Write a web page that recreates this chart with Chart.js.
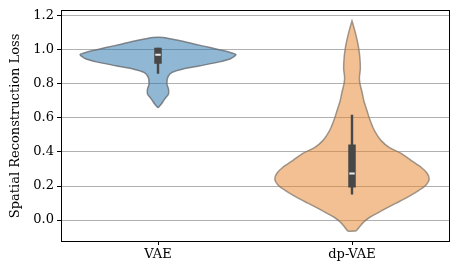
<!DOCTYPE html>
<html>
<head>
<meta charset="utf-8">
<script src="https://cdn.jsdelivr.net/npm/chart.js@4/dist/chart.umd.min.js"></script>
<style>
  html, body { margin: 0; padding: 0; background: #fff; }
  #wrap { width: 458px; height: 275px; }
</style>
</head>
<body>
<div id="wrap"><canvas id="c"></canvas></div>
<script>
const categories = ['VAE', 'dp-VAE'];
const yTicks = [0.0, 0.2, 0.4, 0.6, 0.8, 1.0, 1.2];

// violin outlines: loss value and half width (in category units)
const vaeLoss  = [0.659, 0.682, 0.712, 0.741, 0.770, 0.799, 0.838, 0.867, 0.887, 0.906, 0.926, 0.946, 0.971, 0.983, 0.994, 1.013, 1.033, 1.053, 1.072];
const vaeWidth = [0.000, 0.017, 0.035, 0.054, 0.054, 0.046, 0.050, 0.072, 0.129, 0.216, 0.304, 0.371, 0.402, 0.376, 0.340, 0.268, 0.190, 0.113, 0.026];

const dpLoss  = [-0.064, -0.041, -0.012, 0.018, 0.058, 0.099, 0.135, 0.175, 0.205, 0.240, 0.275, 0.310, 0.351, 0.392, 0.427, 0.468, 0.509, 0.544, 0.596, 0.643, 0.696, 0.749, 0.801, 0.836, 0.889, 0.947, 1.006, 1.064, 1.123, 1.170];
const dpWidth = [0.021, 0.038, 0.060, 0.094, 0.158, 0.227, 0.287, 0.345, 0.381, 0.398, 0.387, 0.356, 0.304, 0.253, 0.191, 0.149, 0.124, 0.108, 0.090, 0.077, 0.062, 0.052, 0.041, 0.038, 0.043, 0.041, 0.035, 0.025, 0.012, 0.000];

// inner box stats: [whisker low, q1, median, q3, whisker high]
const vaeBox = [0.860, 0.918, 0.971, 1.012, 1.012];
const dpBox  = [0.150, 0.191, 0.273, 0.444, 0.618];

function outline(center, loss, width) {
  const pts = [];
  for (let i = 0; i < loss.length; i++) pts.push({ x: center + width[i], y: loss[i] });
  for (let i = loss.length - 1; i >= 0; i--) pts.push({ x: center - width[i], y: loss[i] });
  pts.push(pts[0]);
  return pts;
}

function violin(center, loss, width, fill, edge) {
  return {
    data: outline(center, loss, width),
    showLine: true, fill: 'shape', tension: 0.25,
    backgroundColor: fill, borderColor: edge, borderWidth: 1.5,
    pointRadius: 0, order: 4
  };
}

function innerBox(center, s) {
  return [
    { data: [{ x: center, y: s[0] }, { x: center, y: s[4] }], showLine: true,
      borderColor: '#474747', borderWidth: 2.4, pointRadius: 0, order: 3 },
    { data: [{ x: center, y: s[1] }, { x: center, y: s[3] }], showLine: true,
      borderColor: '#474747', borderWidth: 7.5, borderCapStyle: 'butt', pointRadius: 0, order: 2 },
    { data: [{ x: center - 0.014, y: s[2] }, { x: center + 0.014, y: s[2] }], showLine: true,
      borderColor: '#ececec', borderWidth: 2, pointRadius: 0, order: 1 }
  ];
}

const font = { family: 'DejaVu Serif', size: 13 };
const edgeOnly = {
  ticks: { display: false },
  grid: { display: false, drawTicks: false },
  border: { display: true, color: '#000' }
};

new Chart(document.getElementById('c'), {
  type: 'scatter',
  data: {
    datasets: [
      violin(0, vaeLoss, vaeWidth, 'rgba(34,112,170,0.5)', 'rgba(110,115,120,0.85)'),
      violin(1, dpLoss, dpWidth, 'rgba(230,129,40,0.5)', 'rgba(130,120,110,0.75)'),
      ...innerBox(0, vaeBox),
      ...innerBox(1, dpBox)
    ]
  },
  options: {
    responsive: true, maintainAspectRatio: false, animation: false,
    layout: { padding: { top: 10, right: 9, left: 0, bottom: 0 } },
    plugins: { legend: { display: false }, tooltip: { enabled: false } },
    scales: {
      x: {
        type: 'linear', min: -0.5, max: 1.5,
        afterBuildTicks(s) { s.ticks = categories.map((c, i) => ({ value: i })); },
        afterFit(s) { s.height = 34; },
        ticks: { callback: v => categories[v], color: '#000', font, padding: 2, maxRotation: 0 },
        grid: { drawOnChartArea: false, tickColor: '#000', tickLength: 4 },
        border: { color: '#000' }
      },
      y: {
        type: 'linear', min: -0.123, max: 1.229,
        afterBuildTicks(s) { s.ticks = yTicks.map(v => ({ value: v })); },
        afterFit(s) { s.width = 61; },
        ticks: { callback: v => v.toFixed(1), color: '#000', font, padding: 3 },
        grid: { color: '#b0b0b0', lineWidth: 1, tickColor: '#000', tickLength: 4 },
        border: { color: '#000' },
        title: { display: true, text: 'Spatial Reconstruction Loss', color: '#000', font, padding: { top: 8, bottom: 0 } }
      },
      xTop: { type: 'linear', position: 'top', min: -0.5, max: 1.5, afterFit(s) { s.height = 0; }, ...edgeOnly },
      yRight: { type: 'linear', position: 'right', min: -0.123, max: 1.229, afterFit(s) { s.width = 0; }, ...edgeOnly }
    }
  }
});
</script>
</body>
</html>
